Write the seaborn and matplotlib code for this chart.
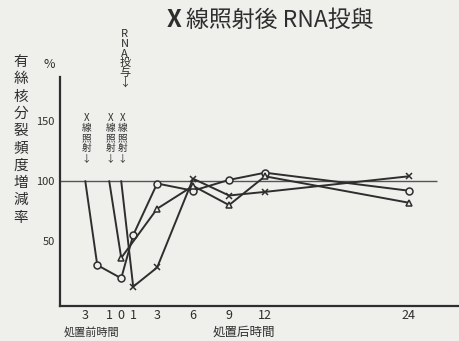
import pandas as pd
import seaborn as sns
import matplotlib.pyplot as plt

# hours relative to treatment (negative = before), mitotic index in %
circle_x = [-3, -2, 0, 1, 3, 6, 9, 12, 24]
circle_y = [100, 30, 19, 55, 98, 92, 101, 107, 92]
tri_x = [-1, 0, 3, 6, 9, 12, 24]
tri_y = [100, 36, 77, 96, 80, 104, 82]
cross_x = [0, 1, 3, 6, 9, 12, 24]
cross_y = [100, 12, 28, 102, 88, 91, 104]

tick_pos = [-3, -1, 0, 1, 3, 6, 9, 12, 24]
tick_labels = ["3", "1", "0", "1", "3", "6", "9", "12", "24"]
y_ticks = [50, 100, 150]
xray_times = [-3, -1, 0]

sns.set_style("white")
plt.rcParams['font.family'] = ['Noto Sans CJK JP', 'DejaVu Sans']

paper = '#efefec'
ink = '#2e2e2e'

fig = plt.figure(figsize=(4.59, 3.41), dpi=100, facecolor=paper)
ax = fig.add_axes([0.131, 0.103, 0.869, 0.672], facecolor=paper)

# reference line at 100 %
ax.hlines(100, -5.1, 26.4, color='#555555', lw=1.0)

series = [
    (circle_x, circle_y, 'o'),
    (tri_x, tri_y, '^'),
    (cross_x, cross_y, 'x'),
]
for xs, ys, mk in series:
    df = pd.DataFrame({'t': xs, 'v': ys})
    sns.lineplot(data=df, x='t', y='v', ax=ax, sort=False, color=ink, lw=1.4,
                 marker=mk, markersize=5, markerfacecolor=paper,
                 markeredgecolor=ink, markeredgewidth=1.1,
                 markevery=list(range(1, len(xs))))

ax.set_xlim(-5.1, 28.2)
ax.set_ylim(-4, 187)
ax.set_xticks(tick_pos)
ax.set_xticklabels(tick_labels, fontsize=9, color=ink)
ax.set_yticks(y_ticks)
ax.set_yticklabels([str(v) for v in y_ticks], fontsize=8, color=ink, style='italic')
ax.tick_params(axis='x', direction='in', length=3, pad=2, color=ink)
ax.tick_params(axis='y', direction='out', length=3, pad=1, color=ink)
ax.set_xlabel("")
ax.set_ylabel("")
sns.despine(ax=ax)
for s in ['left', 'bottom']:
    ax.spines[s].set_color(ink)
    ax.spines[s].set_linewidth(1.6)

# title
fig.text(0.362, 0.94, "X", fontsize=17, fontweight='bold', color=ink, va='center')
fig.text(0.405, 0.94, "線照射後 RNA投與", fontsize=16.5, color=ink, va='center')

# vertical y label
fig.text(0.045, 0.59, "\n".join("有絲核分裂頻度増減率"), fontsize=10.5,
         color=ink, ha='center', va='center', linespacing=1.3)
fig.text(0.108, 0.81, "%", fontsize=9, color=ink, ha='center', va='center')

# annotations: time of irradiation / RNA injection
for xh in xray_times:
    ax.annotate("\n".join("X線照射") + "\n↓", xy=(xh + 0.1, 136), xycoords='data',
                ha='center', va='center', fontsize=7, color=ink, linespacing=1.0)
ax.annotate("R\nN\nA\n投\n与\n↓", xy=(0.3, 202), xycoords='data', annotation_clip=False,
            ha='center', va='center', fontsize=8, color=ink, linespacing=0.95)

# x axis captions
fig.text(0.2, 0.025, "処置前時間", fontsize=8, color=ink, ha='center', va='center')
fig.text(0.532, 0.025, "処置后時間", fontsize=9, color=ink, ha='center', va='center')

fig.savefig("out.png", dpi=100, facecolor=paper)
